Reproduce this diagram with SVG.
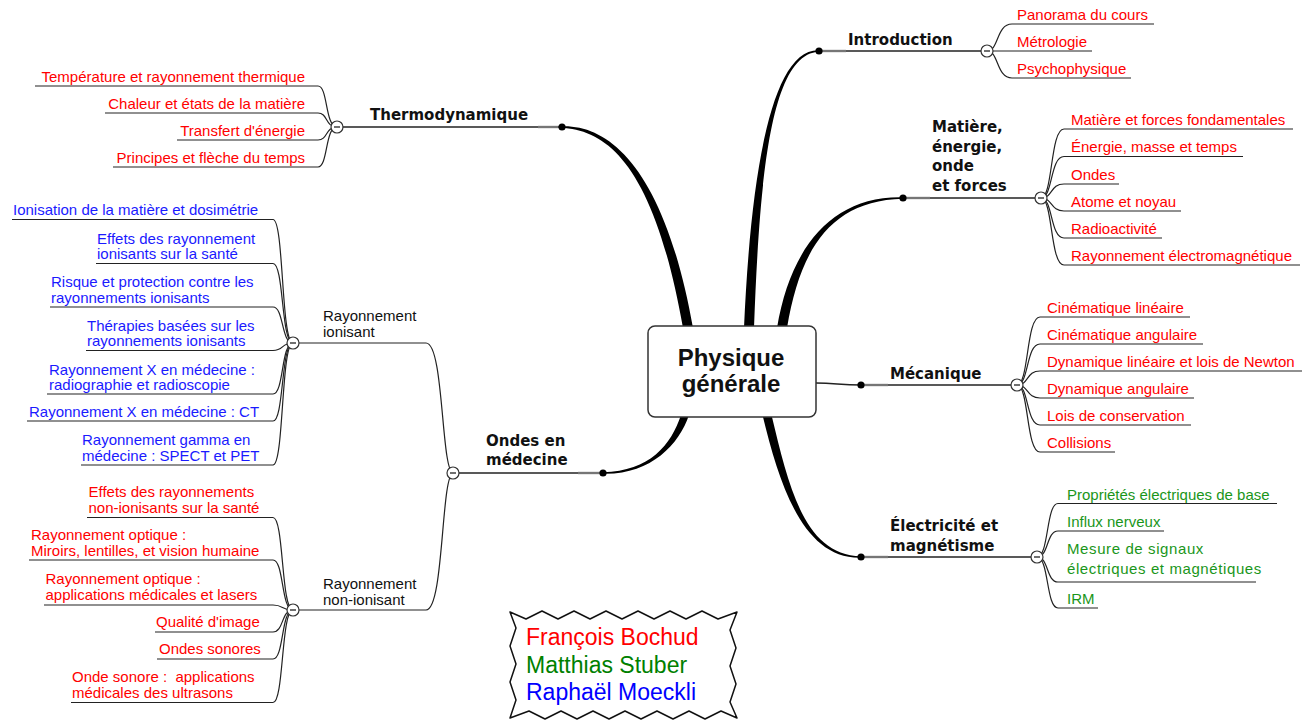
<svg xmlns="http://www.w3.org/2000/svg" width="1311" height="722" viewBox="0 0 1311 722">
<style>
.leaf{font-family:"Liberation Sans",Arial,sans-serif;font-size:15px}
.r{fill:#ff0000}.b{fill:#1a1aff}.g{fill:#1a961a}
.main{font-family:"DejaVu Sans",Verdana,sans-serif;font-weight:bold;font-size:15px;fill:#111}
.sub{font-family:"Liberation Sans",Arial,sans-serif;font-size:15px;fill:#111}
.conn path,.conn line{fill:none;stroke:#222;stroke-width:1.2}
.mainline{fill:none;stroke:#222;stroke-width:1.5}
.shade{stroke:#999;stroke-width:3;opacity:.45}
.branch{fill:#000}
.dot{fill:#000}
.auth{font-family:"Liberation Sans",Arial,sans-serif;font-size:23px}
</style>
<defs>
<g id="minus"><circle cx="0" cy="0" r="6" fill="#ffffff" stroke="#333333" stroke-width="1.2"/><line x1="-3" y1="0" x2="3" y2="0" stroke="#333333" stroke-width="1.4"/></g>
</defs>

<g id="connectors">
  <path class="branch" d="M683 328 C655 170 610 130 561 127.7 L561 126.3 C610 124 665 170 693 328 Z"/>
  <path class="branch" d="M744 328 C750.5 180 770 48.5 819 50.3 L819 51.7 C770 53.5 759.5 180 754 328 Z"/>
  <path class="branch" d="M777 328 C790 250 830 195.5 903 197.3 L903 198.7 C830 200.5 800 250 787 328 Z"/>
  <path class="branch" d="M771.5 415 C789.5 490 805 554.8 861 556.3 L861 557.7 C805 559.2 780.5 490 762.5 415 Z"/>
  <path class="branch" d="M689 415 C679 445 650 475 603 473.7 L603 472.3 C650 471 671 445 681 415 Z"/>
  <path class="mainline" stroke-width="2" d="M816 383 C835 383 840 385 861 385"/>

  <line class="mainline" x1="819" y1="51" x2="987" y2="51"/>
  <line class="mainline" x1="903" y1="198" x2="1041" y2="198"/>
  <line class="mainline" x1="861" y1="385" x2="1017" y2="385"/>
  <line class="mainline" x1="861" y1="557" x2="1037" y2="557"/>
  <line class="mainline" x1="561" y1="127" x2="337" y2="127"/>
  <line class="mainline" x1="603" y1="473" x2="453" y2="473"/>
  <line class="shade" x1="822" y1="51" x2="846" y2="51"/>
  <line class="shade" x1="906" y1="198" x2="930" y2="198"/>
  <line class="shade" x1="864" y1="385" x2="888" y2="385"/>
  <line class="shade" x1="864" y1="557" x2="888" y2="557"/>
  <line class="shade" x1="558" y1="127" x2="538" y2="127"/>
  <line class="shade" x1="600" y1="473" x2="578" y2="473"/>

  <g class="conn">
    <path d="M987 51 C999 51 996 24 1012 24 L1154 24"/>
    <path d="M987 51 L1092 51"/>
    <path d="M987 51 C999 51 996 78 1012 78 L1131 78"/>
    <path d="M1041 198 C1053 198 1050 129 1064 129 L1293 129"/>
    <path d="M1041 198 C1053 198 1050 156.5 1064 156.5 L1243 156.5"/>
    <path d="M1041 198 C1053 198 1050 184 1064 184 L1119 184"/>
    <path d="M1041 198 C1053 198 1050 211 1064 211 L1181 211"/>
    <path d="M1041 198 C1053 198 1050 238 1064 238 L1162 238"/>
    <path d="M1041 198 C1053 198 1050 265 1064 265 L1300 265"/>
    <path d="M1017 385 C1029 385 1026 317 1040 317 L1190 317"/>
    <path d="M1017 385 C1029 385 1026 344 1040 344 L1203 344"/>
    <path d="M1017 385 C1029 385 1026 371 1040 371 L1302 371"/>
    <path d="M1017 385 C1029 385 1026 398 1040 398 L1194 398"/>
    <path d="M1017 385 C1029 385 1026 425 1040 425 L1191 425"/>
    <path d="M1017 385 C1029 385 1026 452 1040 452 L1115 452"/>
    <path d="M1037 557 C1049 557 1046 503.5 1058 503.5 L1277 503.5"/>
    <path d="M1037 557 C1049 557 1046 531 1058 531 L1164 531"/>
    <path d="M1037 557 C1049 557 1046 582 1058 582 L1256 582"/>
    <path d="M1037 557 C1049 557 1046 608 1058 608 L1098 608"/>
    <path d="M337 127 C325 127 328 86 318 86 L35 86"/>
    <path d="M337 127 C325 127 328 113 318 113 L105 113"/>
    <path d="M337 127 C325 127 328 140 318 140 L177 140"/>
    <path d="M337 127 C325 127 328 167 318 167 L113 167"/>
    <path d="M453 473 C441 470 444 343 426 343 L293 343"/>
    <path d="M453 473 C441 476 444 610 426 610 L293 610"/>
    <path d="M293 343 C281 343 284 219.5 273 219.5 L12 219.5"/>
    <path d="M293 343 C281 343 284 263.5 273 263.5 L96 263.5"/>
    <path d="M293 343 C281 343 284 307 273 307 L50 307"/>
    <path d="M293 343 C281 343 284 350.5 273 350.5 L86 350.5"/>
    <path d="M293 343 C281 343 284 394 273 394 L47 394"/>
    <path d="M293 343 C281 343 284 421 273 421 L27 421"/>
    <path d="M293 343 C281 343 284 465 273 465 L81 465"/>
    <path d="M293 610 C281 610 284 517.5 273 517.5 L87 517.5"/>
    <path d="M293 610 C281 610 284 560 273 560 L29 560"/>
    <path d="M293 610 C281 610 284 605 273 605 L44 605"/>
    <path d="M293 610 C281 610 284 632 273 632 L155 632"/>
    <path d="M293 610 C281 610 284 659 273 659 L157 659"/>
    <path d="M293 610 C281 610 284 702.5 273 702.5 L71 702.5"/>
  </g>
</g>

<g id="center">
  <rect x="648" y="326" width="168" height="91" rx="7" fill="#fff" stroke="#333" stroke-width="1.5"/>
  <text font-family="Liberation Sans,Arial,sans-serif" font-weight="bold" font-size="24" fill="#111" text-anchor="middle"><tspan x="731" y="366">Physique</tspan><tspan x="731" y="392">générale</tspan></text>
</g>

<g id="dots">
  <circle class="dot" cx="819" cy="51" r="3.6"/>
  <circle class="dot" cx="903" cy="198" r="3.6"/>
  <circle class="dot" cx="861" cy="385" r="3.6"/>
  <circle class="dot" cx="861" cy="557" r="3.6"/>
  <circle class="dot" cx="562" cy="127" r="3.6"/>
  <circle class="dot" cx="603" cy="473" r="3.6"/>
</g>

<g id="toggles">
  <use href="#minus" x="987" y="51"/>
  <use href="#minus" x="1041" y="198"/>
  <use href="#minus" x="1017" y="385"/>
  <use href="#minus" x="1037" y="557"/>
  <use href="#minus" x="337" y="127"/>
  <use href="#minus" x="453" y="473"/>
  <use href="#minus" x="293" y="343"/>
  <use href="#minus" x="293" y="610"/>
</g>

<g id="introduction">
  <text class="main" x="848" y="45">Introduction</text>
  <text class="leaf r" x="1017" y="19.5">Panorama du cours</text>
  <text class="leaf r" x="1017" y="46.5">Métrologie</text>
  <text class="leaf r" x="1017" y="73.5">Psychophysique</text>
</g>

<g id="matiere">
  <text class="main"><tspan x="932" y="132">Matière,</tspan><tspan x="932" y="151.5">énergie,</tspan><tspan x="932" y="171">onde</tspan><tspan x="932" y="190.5">et forces</tspan></text>
  <text class="leaf r" x="1071" y="124.5">Matière et forces fondamentales</text>
  <text class="leaf r" x="1071" y="152">Énergie, masse et temps</text>
  <text class="leaf r" x="1071" y="179.5">Ondes</text>
  <text class="leaf r" x="1071" y="206.5">Atome et noyau</text>
  <text class="leaf r" x="1071" y="233.5">Radioactivité</text>
  <text class="leaf r" x="1071" y="260.5">Rayonnement électromagnétique</text>
</g>

<g id="mecanique">
  <text class="main" x="890" y="379">Mécanique</text>
  <text class="leaf r" x="1047" y="312.5">Cinématique linéaire</text>
  <text class="leaf r" x="1047" y="339.5">Cinématique angulaire</text>
  <text class="leaf r" x="1047" y="366.5">Dynamique linéaire et lois de Newton</text>
  <text class="leaf r" x="1047" y="393.5">Dynamique angulaire</text>
  <text class="leaf r" x="1047" y="420.5">Lois de conservation</text>
  <text class="leaf r" x="1047" y="447.5">Collisions</text>
</g>

<g id="electricite">
  <text class="main"><tspan x="890" y="531">Électricité et</tspan><tspan x="890" y="551">magnétisme</tspan></text>
  <text class="leaf g" x="1067" y="499.5">Propriétés électriques de base</text>
  <text class="leaf g" x="1067" y="527">Influx nerveux</text>
  <text class="leaf g" font-size="14" letter-spacing="0.6"><tspan x="1067" y="554">Mesure de signaux</tspan><tspan x="1067" y="574">électriques et magnétiques</tspan></text>
  <text class="leaf g" x="1067" y="603.5">IRM</text>
</g>

<g id="thermodynamique">
  <text class="main" x="370" y="120">Thermodynamique</text>
  <g text-anchor="end">
    <text class="leaf r" x="305" y="81.5">Température et rayonnement thermique</text>
    <text class="leaf r" x="305" y="108.5">Chaleur et états de la matière</text>
    <text class="leaf r" x="305" y="135.5">Transfert d'énergie</text>
    <text class="leaf r" x="305" y="162.5">Principes et flèche du temps</text>
  </g>
</g>

<g id="ondes">
  <text class="main"><tspan x="486" y="446">Ondes en</tspan><tspan x="486" y="465">médecine</tspan></text>
</g>

<g id="ionisant">
  <text class="sub"><tspan x="323" y="321">Rayonnement</tspan><tspan x="323" y="337">ionisant</tspan></text>
  <text class="leaf b" x="13" y="215">Ionisation de la matière et dosimétrie</text>
  <text class="leaf b"><tspan x="97" y="243.5">Effets des rayonnement</tspan><tspan x="97" y="259">ionisants sur la santé</tspan></text>
  <text class="leaf b"><tspan x="51" y="287">Risque et protection contre les</tspan><tspan x="51" y="302.5">rayonnements ionisants</tspan></text>
  <text class="leaf b"><tspan x="87" y="330.5">Thérapies basées sur les</tspan><tspan x="87" y="346">rayonnements ionisants</tspan></text>
  <text class="leaf b"><tspan x="49" y="374.5">Rayonnement X en médecine :</tspan><tspan x="49" y="390">radiographie et radioscopie</tspan></text>
  <text class="leaf b" x="29" y="417">Rayonnement X en médecine : CT</text>
  <text class="leaf b"><tspan x="82" y="445">Rayonnement gamma en</tspan><tspan x="82" y="461">médecine : SPECT et PET</tspan></text>
</g>

<g id="nonionisant">
  <text class="sub"><tspan x="323" y="589">Rayonnement</tspan><tspan x="323" y="605">non-ionisant</tspan></text>
  <text class="leaf r"><tspan x="88.5" y="496.5">Effets des rayonnements</tspan><tspan x="88.5" y="512.5">non-ionisants sur la santé</tspan></text>
  <text class="leaf r"><tspan x="31" y="540">Rayonnement optique :</tspan><tspan x="31" y="556">Miroirs, lentilles, et vision humaine</tspan></text>
  <text class="leaf r"><tspan x="45.5" y="583.5">Rayonnement optique :</tspan><tspan x="45.5" y="600">applications médicales et lasers</tspan></text>
  <text class="leaf r" x="156" y="627">Qualité d'image</text>
  <text class="leaf r" x="159" y="654">Ondes sonores</text>
  <text class="leaf r"><tspan x="72" y="681.5">Onde sonore :&#160; applications</tspan><tspan x="72" y="697.5">médicales des ultrasons</tspan></text>
</g>

<g id="authors">
  <path d="M510 612 L526 619 L542 611 L558 619 L574 611 L590 619 L606 611 L622 619 L638 611 L654 619 L670 611 L686 619 L702 611 L718 619 L737 612 L730 630 L736 648 L730 666 L736 684 L730 702 L737 718 L721 711 L705 719 L689 711 L673 719 L657 711 L641 719 L625 711 L609 719 L593 711 L577 719 L561 711 L545 719 L529 711 L510 718 L516 700 L510 682 L516 664 L510 646 L516 628 Z" fill="#fff" stroke="#111" stroke-width="1.5" stroke-linejoin="round"/>
  <text class="auth" x="526" y="645" fill="#ff0000">François Bochud</text>
  <text class="auth" x="526" y="672.5" fill="#008000">Matthias Stuber</text>
  <text class="auth" x="526" y="699.5" fill="#0000ff">Raphaël Moeckli</text>
</g>
</svg>
